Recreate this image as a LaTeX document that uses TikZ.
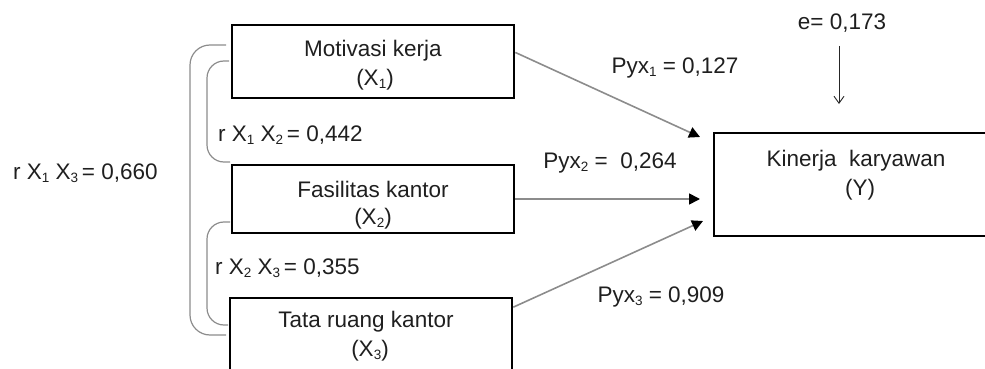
\documentclass[tikz,border=0pt]{standalone}
\usepackage{fontspec}
\setmainfont{Liberation Sans}
\usetikzlibrary{arrows.meta,calc}
% small lowered index, as in X_1
\newcommand\lowix[1]{\raisebox{-3pt}{\fontsize{13.5}{14}\selectfont #1}}
\begin{document}
\begin{tikzpicture}[x=1pt,y=-1pt,
  every node/.style={font=\fontsize{22.5}{27}\selectfont, text=black!88, inner sep=0pt},
  varbox/.style={draw=black, line width=2.6pt, rectangle},
  lbl/.style={anchor=base},
  lblw/.style={anchor=base west},
  patharrow/.style={draw=black!45, line width=1.6pt,
    -{Triangle[length=11pt,width=11pt,color=black]}},
  errarrow/.style={draw=black!85, line width=0.9pt,
    -{Straight Barb[length=7pt,width=10pt]}},
  bracket/.style={draw=black!45, line width=1.2pt, rounded corners=20pt}
]
\useasboundingbox (0,0) rectangle (985,369);
\clip (0,0) rectangle (985,369);

% variable boxes
\node[varbox, minimum width=282pt, minimum height=73pt]  (x1) at (373,61.5) {};
\node[varbox, minimum width=282pt, minimum height=68pt]  (x2) at (373,199) {};
\node[varbox, minimum width=282pt, minimum height=102pt] (x3) at (371,349) {};
\node[varbox, minimum width=296pt, minimum height=103pt] (y)  at (862,184.5) {};

% box texts
\node[lbl] (x1a) at (373,57)  {Motivasi kerja};
\node[lbl] (x1b) at (375,85)  {(X\lowix{1})};
\node[lbl] (x2a) at (373,197) {Fasilitas kantor};
\node[lbl] (x2b) at (373,224) {(X\lowix{2})};
\node[lbl] (x3a) at (366,327) {Tata ruang kantor};
\node[lbl] (x3b) at (370,356) {(X\lowix{3})};
\node[lbl] (ya)  at (856,166) {Kinerja\ \ karyawan};
\node[lbl] (yb)  at (860,195) {(Y)};

% path coefficients
\node[lbl] (p1) at (675,74)  {Pyx\lowix{1} = 0,127};
\node[lbl] (p2) at (610,168) {Pyx\lowix{2} =\ \ 0,264};
\node[lbl] (p3) at (661,302) {Pyx\lowix{3} = 0,909};
\node[lbl] (e)  at (842,30)  {e= 0,173};

% correlations
\node[lblw] (r12) at (218,141) {r X\lowix{1} X\lowix{2}\,= 0,442};
\node[lblw] (r23) at (215,274) {r X\lowix{2} X\lowix{3}\,= 0,355};
\node[lblw] (r13) at (13,179)  {r X\lowix{1} X\lowix{3}\,= 0,660};

% arrow end points at the dependent variable
\coordinate (t1) at (700,137);
\coordinate (t2) at (700,199);
\coordinate (t3) at (703,221);
\coordinate (e0) at (839,46);
\coordinate (e1) at (839,104);

\draw[patharrow] ($(x1.north east)!0.38!(x1.south east)$) -- (t1);
\draw[patharrow] (x2.east) -- (t2);
\draw[patharrow] ($(x3.north east)!0.1!(x3.south east)$) -- (t3);
\draw[errarrow] (e0) -- (e1);

% correlation brackets
\draw[bracket] (226,45) -- (190,45) -- (190,335) -- (226,335);
\draw[bracket, rounded corners=17pt] (229,61) -- (207,61) -- (207,162) -- (230,162);
\draw[bracket, rounded corners=17pt] (230,222) -- (207,222) -- (207,325) -- (228,325);
\end{tikzpicture}
\end{document}
